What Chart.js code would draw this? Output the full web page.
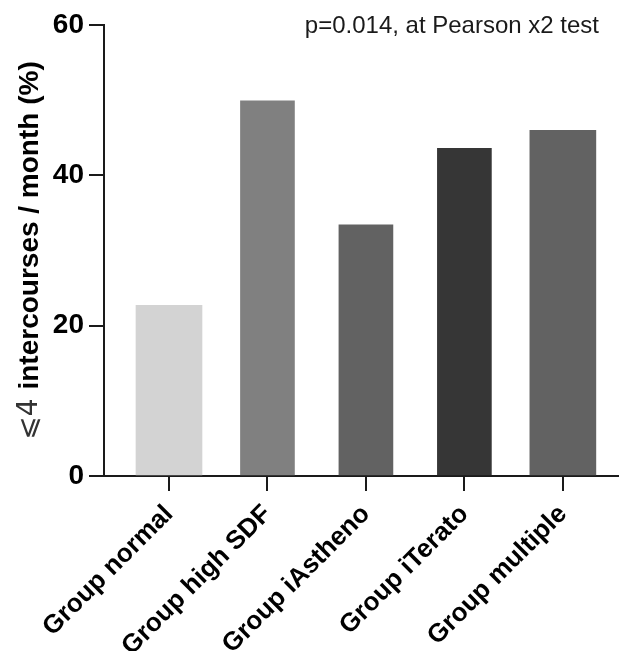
<!DOCTYPE html>
<html>
<head>
<meta charset="utf-8">
<script src="https://cdn.jsdelivr.net/npm/chart.js@4.4.1/dist/chart.umd.min.js"></script>
<style>
  html, body { margin: 0; padding: 0; background: #fff; }
  #wrap { width: 619px; height: 651px; }
</style>
</head>
<body>
<div id="wrap"><canvas id="chart" width="619" height="651"></canvas></div>
<script>
// ---- data -------------------------------------------------------------------
const categories = ["Group normal", "Group high SDF", "Group iAstheno", "Group iTerato", "Group multiple"];
const percents = [22.7, 49.9, 33.4, 43.6, 46.0];
const yTicks = [0, 20, 40, 60];
const note = "p=0.014, at Pearson x2 test";
const yTitleSymbol = "\u2A7D4 ";
const yTitleText = "intercourses / month (%)";

// ---- style ------------------------------------------------------------------
const barColors = ["#d3d3d3", "#808080", "#626262", "#363636", "#626262"];
const wideBars = [0, 4]; // the outer two bars are drawn wider in the original
const INK = "#1a1a1a";
const FONT = "'Liberation Sans', Arial, sans-serif";

function pick(wide) {
  const idx = categories.map((_, i) => i).filter(i => wideBars.includes(i) === wide);
  return {
    data: idx.map(i => ({ x: i, y: percents[i] })),
    backgroundColor: idx.map(i => barColors[i]),
    barThickness: wide ? 66 : 54,
    borderWidth: 0,
  };
}

// note at top right + y title drawn in two weights ("⩽4" is light in the original)
const textPlugin = {
  id: "texts",
  afterDraw(chart) {
    const ctx = chart.ctx, a = chart.chartArea;
    ctx.save();
    ctx.font = `24px ${FONT}`;
    ctx.fillStyle = INK;
    ctx.textAlign = "right";
    ctx.textBaseline = "alphabetic";
    ctx.fillText(note, 599, 33);

    const fLight = `28px 'DejaVu Sans', ${FONT}`;
    const fBold = `bold 28px ${FONT}`;
    ctx.font = fLight;
    const w1 = ctx.measureText(yTitleSymbol).width;
    ctx.font = fBold;
    const w2 = ctx.measureText(yTitleText).width;
    ctx.translate(30, (a.top + a.bottom) / 2);
    ctx.rotate(-Math.PI / 2);
    ctx.textAlign = "left";
    ctx.textBaseline = "middle";
    const x0 = -(w1 + w2) / 2;
    ctx.font = fLight;
    ctx.fillStyle = "#333";
    ctx.fillText(yTitleSymbol, x0, 0);
    ctx.font = fBold;
    ctx.fillStyle = "#000";
    ctx.fillText(yTitleText, x0 + w1, 0);
    ctx.restore();
  },
};

new Chart(document.getElementById("chart"), {
  type: "bar",
  data: { datasets: [pick(true), pick(false)] },
  plugins: [textPlugin],
  options: {
    responsive: false,
    animation: false,
    grouped: false,
    layout: { padding: { top: 25, right: 1, left: 0, bottom: 0 } },
    plugins: { legend: { display: false }, tooltip: { enabled: false } },
    scales: {
      x: {
        type: "linear",
        offset: false,
        min: -0.66,
        max: 4.56,
        afterBuildTicks: (s) => { s.ticks = categories.map((_, i) => ({ value: i })); },
        afterFit: (s) => { s.height = 175; },
        border: { display: true, color: INK, width: 2 },
        grid: { offset: false, drawOnChartArea: false, drawTicks: true, tickLength: 15, color: INK, lineWidth: 2 },
        ticks: {
          autoSkip: false,
          minRotation: 45,
          maxRotation: 45,
          padding: 8,
          color: "#000",
          font: { family: FONT, size: 26, weight: "bold" },
          callback: (v) => categories[v],
        },
      },
      y: {
        min: 0,
        max: 60,
        afterBuildTicks: (s) => { s.ticks = yTicks.map(v => ({ value: v })); },
        afterFit: (s) => { s.width = 104; },
        border: { display: true, color: INK, width: 2 },
        grid: { drawOnChartArea: false, drawTicks: true, tickLength: 15, color: INK, lineWidth: 2 },
        ticks: {
          padding: 5,
          color: "#000",
          font: { family: FONT, size: 28, weight: "bold" },
        },
      },
    },
  },
});
</script>
</body>
</html>
